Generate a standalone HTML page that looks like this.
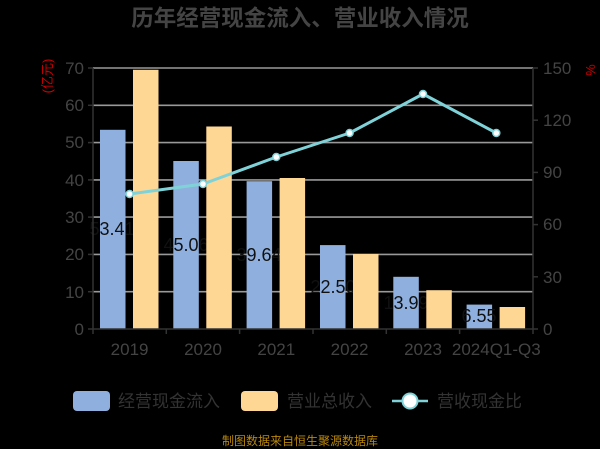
<!DOCTYPE html>
<html><head><meta charset="utf-8"><style>
html,body{margin:0;padding:0;background:#000;}
svg{display:block;font-family:"Liberation Sans","Noto Sans CJK SC",sans-serif;}
</style></head><body>
<svg width="600" height="449" viewBox="0 0 600 449">
<rect width="600" height="449" fill="#000"/>
<text x="300" y="26" text-anchor="middle" font-size="22.5" font-weight="bold" fill="#444">历年经营现金流入、营业收入情况</text>
<g stroke="#999" stroke-width="1.6">
<line x1="93" y1="68" x2="533" y2="68"/><line x1="93" y1="105.3" x2="533" y2="105.3"/>
<line x1="93" y1="142.6" x2="533" y2="142.6"/><line x1="93" y1="179.9" x2="533" y2="179.9"/>
<line x1="93" y1="217.1" x2="533" y2="217.1"/><line x1="93" y1="254.4" x2="533" y2="254.4"/>
<line x1="93" y1="291.7" x2="533" y2="291.7"/>
</g>
<g fill="#8fb0de">
<rect x="100" y="129.8" width="25.5" height="199.2"/>
<rect x="173.3" y="161" width="25.5" height="168"/>
<rect x="246.6" y="181.2" width="25.5" height="147.8"/>
<rect x="320" y="245.1" width="25.5" height="83.9"/>
<rect x="393.3" y="276.8" width="25.5" height="52.2"/>
<rect x="466.6" y="304.6" width="25.5" height="24.4"/>
</g>
<g font-size="18" fill="#111" text-anchor="middle">
<text x="112" y="235">53.41</text><text x="186" y="251">45.06</text><text x="259" y="261">39.64</text>
<text x="333" y="293">22.50</text><text x="406" y="309">13.99</text><text x="479" y="322">6.55</text>
</g>
<g fill="#ffd794">
<rect x="133" y="69.8" width="25.5" height="259.2"/>
<rect x="206.3" y="126.5" width="25.5" height="202.5"/>
<rect x="279.6" y="178" width="25.5" height="151"/>
<rect x="353" y="254" width="25.5" height="75"/>
<rect x="426.3" y="290.2" width="25.5" height="38.8"/>
<rect x="499.6" y="307" width="25.5" height="22"/>
</g>
<g stroke="#333" stroke-width="1.5">
<line x1="93" y1="68" x2="93" y2="334"/><line x1="533" y1="68" x2="533" y2="334"/>
<line x1="88" y1="329" x2="538" y2="329"/>
<line x1="166.3" y1="329" x2="166.3" y2="334"/><line x1="239.6" y1="329" x2="239.6" y2="334"/>
<line x1="313" y1="329" x2="313" y2="334"/><line x1="386.3" y1="329" x2="386.3" y2="334"/>
<line x1="459.6" y1="329" x2="459.6" y2="334"/>
<line x1="88" y1="68" x2="93" y2="68"/><line x1="88" y1="105.3" x2="93" y2="105.3"/><line x1="88" y1="142.6" x2="93" y2="142.6"/><line x1="88" y1="179.9" x2="93" y2="179.9"/><line x1="88" y1="217.1" x2="93" y2="217.1"/><line x1="88" y1="254.4" x2="93" y2="254.4"/><line x1="88" y1="291.7" x2="93" y2="291.7"/>
<line x1="533" y1="68" x2="538" y2="68"/><line x1="533" y1="120.2" x2="538" y2="120.2"/><line x1="533" y1="172.4" x2="538" y2="172.4"/><line x1="533" y1="224.6" x2="538" y2="224.6"/><line x1="533" y1="276.8" x2="538" y2="276.8"/>
</g>
<g font-size="17" fill="#444" text-anchor="end">
<text x="84" y="74">70</text><text x="84" y="111">60</text><text x="84" y="148">50</text><text x="84" y="186">40</text>
<text x="84" y="223">30</text><text x="84" y="260">20</text><text x="84" y="298">10</text><text x="84" y="335">0</text>
</g>
<g font-size="17" fill="#444">
<text x="543" y="74">150</text><text x="543" y="126">120</text><text x="543" y="178">90</text>
<text x="543" y="230">60</text><text x="543" y="283">30</text><text x="543" y="335">0</text>
</g>
<g font-size="17" fill="#444" text-anchor="middle">
<text x="129.6" y="355">2019</text><text x="203" y="355">2020</text><text x="276.3" y="355">2021</text>
<text x="349.6" y="355">2022</text><text x="423" y="355">2023</text><text x="496.3" y="355">2024Q1-Q3</text>
</g>
<text transform="translate(52,76) rotate(-90)" font-size="13" fill="#c00" text-anchor="middle">(亿元)</text>
<text transform="translate(586,70) rotate(90)" font-size="13" fill="#c00" text-anchor="middle">%</text>
<polyline points="129.6,194 203,184 276.3,157 349.6,133 423,94 496.3,133" fill="none" stroke="#7fd3d8" stroke-width="3" stroke-linejoin="round"/>
<g fill="#fff" stroke="#7fd3d8" stroke-width="1.5">
<circle cx="129.6" cy="194" r="3.5"/><circle cx="203" cy="184" r="3.5"/><circle cx="276.3" cy="157" r="3.5"/>
<circle cx="349.6" cy="133" r="3.5"/><circle cx="423" cy="94" r="3.5"/><circle cx="496.3" cy="133" r="3.5"/>
</g>
<rect x="73" y="391" width="37" height="20" rx="4" fill="#8fb0de"/>
<text x="118" y="407" font-size="17" fill="#333">经营现金流入</text>
<rect x="241" y="391" width="37" height="20" rx="4" fill="#ffd794"/>
<text x="287" y="407" font-size="17" fill="#333">营业总收入</text>
<line x1="392" y1="401" x2="428" y2="401" stroke="#7fd3d8" stroke-width="2.5"/>
<circle cx="410" cy="401" r="7.5" fill="#fff" stroke="#7fd3d8" stroke-width="2"/>
<text x="437" y="407" font-size="17" fill="#333">营收现金比</text>
<text x="300" y="445" font-size="12" fill="#b8860b" text-anchor="middle">制图数据来自恒生聚源数据库</text>
</svg>
</body></html>
